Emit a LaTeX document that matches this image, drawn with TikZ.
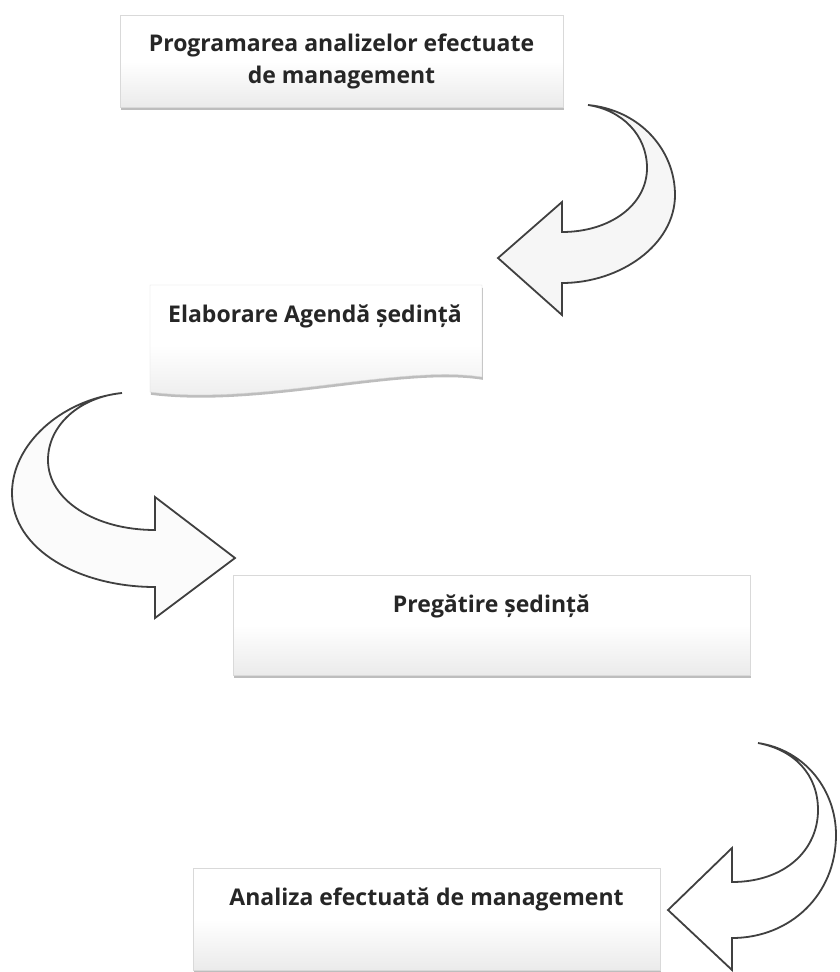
\documentclass[tikz,border=0pt]{standalone}
\usepackage{fontspec}
\setmainfont{Open Sans}
\usetikzlibrary{shadows}
\begin{document}
\begin{tikzpicture}[x=1pt, y=-1pt,
    caseta/.style={draw=gray!30, top color=white, bottom color=gray!16, middle color=white,
                   drop shadow={shadow xshift=0.8pt, shadow yshift=-2.8pt, fill=gray!60, opacity=0.85}},
    eticheta/.style={font=\fontsize{23}{32}\selectfont\bfseries, text=black!85, align=center},
    sageata/.style={draw=black!75, line width=1.8pt, line join=miter, fill=gray!7}]
    % page frame, same proportions as the reference
    \useasboundingbox (0,0) rectangle (839,972);

    % Boxes
    \node[caseta, minimum width=443pt, minimum height=92pt] (program) at (341.5,61) {};
    \node[eticheta] (programtext) at (program.center) {Programarea analizelor efectuate\\de management};

    \path[caseta] (150,285) -- (482,285) -- (482,377)
        .. controls (400,364) and (260,406) .. (150,392) -- cycle;
    \node[eticheta] (agenda) at (315,316) {Elaborare Agendă ședință};

    \node[caseta, minimum width=517pt, minimum height=100pt] (pregatire) at (491.5,625) {};
    \node[eticheta] (pregatiretext) at ([yshift=19pt]pregatire.center) {Pregătire ședință};

    \node[caseta, minimum width=467pt, minimum height=102pt] (analiza) at (426.5,919) {};
    \node[eticheta] (analizatext) at ([yshift=20pt]analiza.center) {Analiza efectuată de management};

    % Curved block arrows
    \draw[sageata] (588,105) .. controls (640,110) and (675,150) .. (675,195)
        .. controls (675,245) and (620,283) .. (562,283)
        -- (562,315) -- (498,258) -- (562,202) -- (562,232)
        .. controls (610,232) and (647,205) .. (647,168)
        .. controls (647,135) and (622,110) .. cycle;

    \draw[sageata, fill=gray!3] (122,393) .. controls (60,400) and (12,445) .. (12,493)
        .. controls (12,550) and (80,587) .. (155,587)
        -- (155,618) -- (235,558) -- (155,497) -- (155,530)
        .. controls (95,530) and (48,500) .. (48,460)
        .. controls (48,425) and (80,397) .. cycle;

    \draw[sageata, fill=white] (758,743) .. controls (805,750) and (836,790) .. (836,835)
        .. controls (836,895) and (790,938) .. (732,938)
        -- (732,970) -- (668,910) -- (732,848) -- (732,882)
        .. controls (785,882) and (818,850) .. (818,810)
        .. controls (818,775) and (795,750) .. cycle;
\end{tikzpicture}
\end{document}
